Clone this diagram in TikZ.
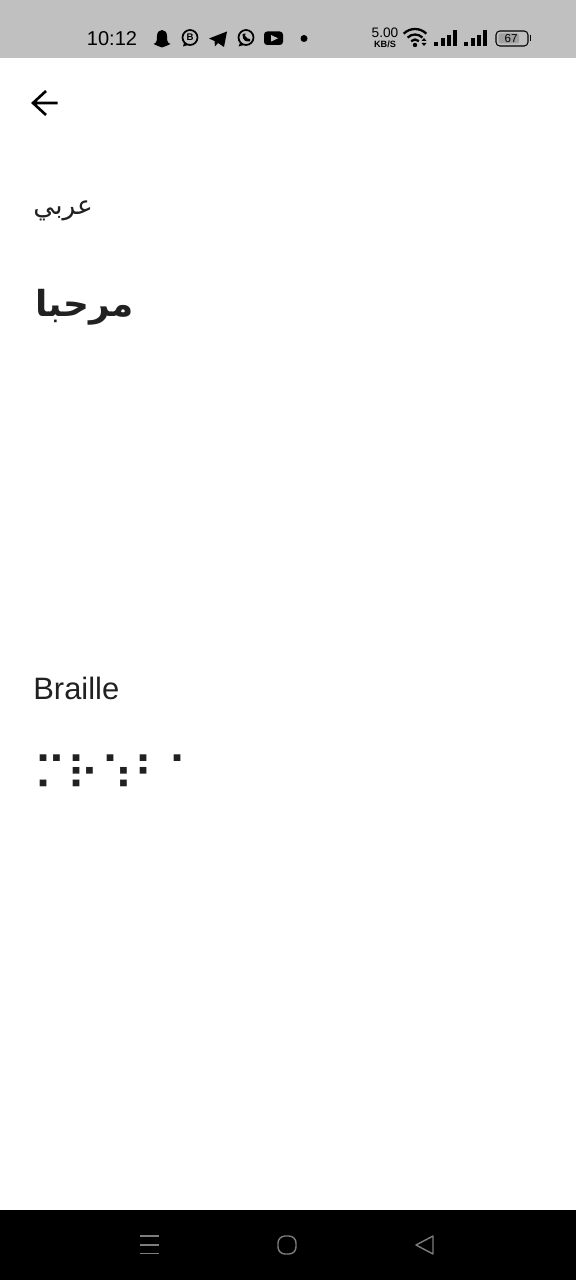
\documentclass[tikz,border=0pt]{standalone}
\usepackage{fontspec}
\setmainfont{Liberation Sans}
\newfontfamily\arabicfont[Script=Arabic]{DejaVu Sans}
\newfontfamily\braillefont{DejaVu Sans}
\TeXXeTstate=1
\usetikzlibrary{arrows.meta,positioning}
\definecolor{barGray}{RGB}{192,192,192}
\definecolor{inkDark}{RGB}{33,33,33}
\definecolor{navGray}{RGB}{125,125,125}
\definecolor{battFill}{RGB}{160,160,160}
\tikzset{
  label/.style={inner sep=0pt,text=inkDark,anchor=west},
  statustext/.style={inner sep=0pt,text=black},
  icon/.style={fill=black,draw=none},
  ring/.style={draw=black,line width=1pt,fill=none},
  navicon/.style={draw=navGray,line width=0.8pt,fill=none,line join=round}
}
\begin{document}
\begin{tikzpicture}[x=0.02cm,y=-0.02cm]
  \useasboundingbox (0,0) rectangle (576,1280);
  \fill[white] (0,0) rectangle (576,1280);
  \fill[barGray] (0,0) rectangle (576,58);
  \fill[black] (0,1210) rectangle (576,1280);

  % status bar
  \node[statustext,font=\fontsize{11.4pt}{13pt}\selectfont] (clock) at (112,38.5) {10:12};
  \fill[icon] (153.5,44) .. controls (157,43) and (157,40) .. (157,36) .. controls (157,28) and (167,28) .. (167,36) .. controls (167,40) and (167,43) .. (170.5,44) -- (166,46) -- (162,47.5) -- (158,46) -- cycle;
  \draw[ring] (190,37.5) circle (7.5);
  \fill[icon] (184,43) -- (183,46.5) -- (188,45) -- cycle;
  \node[statustext,font=\fontsize{5.5pt}{6pt}\selectfont\bfseries] (bizmark) at (190,37.5) {B};
  \fill[icon] (209,38.5) -- (227,31.5) -- (224,47) -- (218,43) -- (215,46.5) -- (214.5,41) -- cycle;
  \draw[ring] (246,37.5) circle (7.5);
  \fill[icon] (240,43) -- (238.5,46.5) -- (244,45) -- cycle;
  \fill[icon] (242.5,34) .. controls (243,42) and (246,41.5) .. (250,41.5) -- (250,39) -- (247.5,38.5) -- (245,36) -- (245.5,33.5) -- cycle;
  \fill[icon,rounded corners=1.8pt] (264,31.5) rectangle (283,45);
  \fill[barGray] (271,35) -- (278,38.3) -- (271,41.6) -- cycle;
  \fill[icon] (304,38.5) circle (3.5);

  % speed and network
  \node[statustext,font=\fontsize{7.8pt}{8pt}\selectfont] (speed) at (385,33) {5.00};
  \node[statustext,font=\fontsize{5.2pt}{6pt}\selectfont\bfseries] (unit) at (385,44) {KB/S};
  \foreach \r in {5.5,10.5,16}
    \draw[black,line width=1.3pt] (415,45)++(-135:\r) arc[start angle=-135,end angle=-45,radius=\r];
  \fill[icon] (415,45) circle (2.2);
  \fill[icon] (424,38) -- (426.5,41) -- (421.5,41) -- cycle;
  \fill[icon] (424,46) -- (426.5,43) -- (421.5,43) -- cycle;
  \foreach \x/\h in {436/42,442.5/38,448.5/35,454.5/30,466/42,472.5/38,478.5/35,485/30}
    \fill[icon] (\x-2,46.5) rectangle (\x+2,\h);
  \draw[black,line width=0.6pt,rounded corners=2.2pt] (496,31) rectangle (528,46);
  \fill[battFill,rounded corners=1.2pt] (498.5,33.5) rectangle (519,43.5);
  \fill[icon] (529.5,35.5) rectangle (531,41.5);
  \node[statustext,font=\fontsize{6.6pt}{8pt}\selectfont] (level) at (511,38.5) {67};

  % back arrow
  \coordinate (backtail) at (57.5,103);
  \coordinate (backtip) at (33,103);
  \draw[black,line width=1.5pt,line join=miter] (backtail) -- (backtip) (46,91) -- (backtip) -- (46,115);

  % contents
  \node[label,font=\fontsize{15pt}{18pt}\arabicfont] (arabichead) at (33,211) {\beginR عربي\endR};
  \node[label,font=\fontsize{20.4pt}{24pt}\arabicfont\bfseries] (arabicword) at (35,307) {\beginR مرحبا\endR};
  \node[label,font=\fontsize{17.6pt}{20pt}\selectfont] (braillehead) at (33,688) {Braille};
  \node[label,font=\fontsize{26pt}{30pt}\braillefont] (brailleword) at (33,773) {⠍⠗⠱⠃⠁};

  % navigation bar
  \foreach \y in {1236,1245,1253.5}
    \draw[navicon] (140,\y) -- (159,\y);
  \draw[navicon,rounded corners=4pt] (278,1236) rectangle (296,1254);
  \draw[navicon] (416,1245) -- (433,1236) -- (433,1254) -- cycle;
\end{tikzpicture}
\end{document}
